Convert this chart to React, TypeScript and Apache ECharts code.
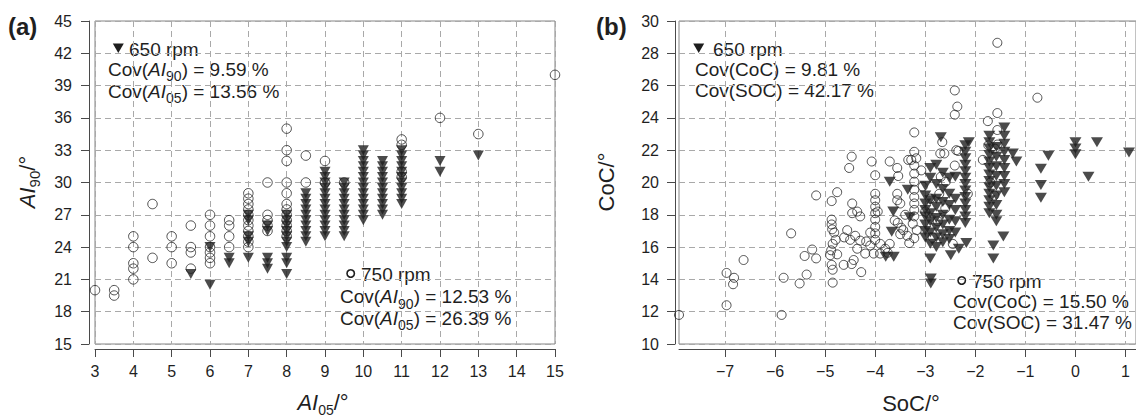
import React, { useEffect, useRef } from "react";
import * as echarts from "echarts";

// ---------- Panel (a): AI05 (x) vs AI90 (y) ----------
// columns of [AI05, [AI90 values...]]
const aiCircle750Cols: [number, number[]][] = [
  [3, [20]],
  [3.5, [20, 19.5]],
  [4, [25, 24, 22.5, 22, 21]],
  [4.5, [28, 23]],
  [5, [25, 24, 22.5]],
  [5.5, [26, 24, 23.5, 22]],
  [6, [27, 26, 25, 24, 23.5, 23, 22.5]],
  [6.5, [26.5, 26, 25, 24]],
  [7, [29, 28.5, 28, 27.5, 27, 26.5, 26, 25.5, 25, 24.5, 24]],
  [7.5, [30, 27, 26.5, 26, 25.5]],
  [8, [35, 33, 32, 30, 29, 28, 27.5, 27, 26.5, 26, 25.5, 25]],
  [8.5, [32.5, 30]],
  [9, [32, 30]],
  [9.5, [30]],
  [11, [34, 33.5, 31, 30.5]],
  [12, [36]],
  [13, [34.5]],
  [15, [40]],
];

const aiTriangle650Cols: [number, number[]][] = [
  [5.5, [21.5]],
  [6, [24, 20.5]],
  [6.5, [23, 22.5]],
  [7, [27, 26.5, 25, 24.5, 23]],
  [7.5, [26, 25.5, 23, 22.5, 22]],
  [8, [27, 26.5, 26, 25.5, 25, 24.5, 24, 23, 22.5, 21.5]],
  [8.5, [29, 28.5, 28, 27.5, 27, 26.5, 26, 25.5, 25, 24.5]],
  [9, [31, 30.5, 30, 29.5, 29, 28.5, 28, 27.5, 27, 26.5, 26, 25.5, 25]],
  [9.5, [30, 29.5, 29, 28.5, 28, 27.5, 27, 26.5, 26, 25.5, 25]],
  [10, [33, 32.5, 32, 31.5, 31, 30.5, 30, 29.5, 29, 28.5, 28, 27.5, 27, 26.5]],
  [10.5, [32, 31.5, 31, 30.5, 30, 29.5, 29, 28.5, 28, 27.5, 27]],
  [11, [33, 32.5, 32, 31.5, 31, 30.5, 30, 29.5, 29, 28.5, 28]],
  [12, [32, 31]],
  [13, [32.5]],
];

const aiXTicks = [3, 4, 5, 6, 7, 8, 9, 10, 11, 12, 13, 14, 15];

// ---------- Panel (b): SoC (x) vs CoC (y) ----------
const socCircles750: [number, number][] = [
  [-7.92, 11.8], [-6.97, 14.4], [-6.82, 14.1], [-6.84, 13.7], [-6.97, 12.4], [-6.63, 15.2],
  [-5.83, 14.1], [-5.87, 11.8], [-5.51, 13.75], [-5.37, 14.3], [-5.41, 15.45], [-5.26, 15.85],
  [-5.18, 15.3], [-5.68, 16.85],
  [-5.18, 19.2], [-4.87, 18.85], [-4.76, 19.4],
  [-4.87, 17.7], [-4.87, 17.4], [-4.86, 17.1], [-4.85, 16.2], [-4.88, 15.8], [-4.9, 15.5],
  [-4.87, 14.9], [-4.85, 14.6], [-4.85, 13.8], [-4.82, 16.9],
  [-4.79, 16.45], [-4.76, 15.55], [-4.63, 14.9], [-4.43, 15.2], [-4.47, 14.95], [-4.28, 14.45],
  [-4.56, 17.05], [-4.46, 18.7], [-4.46, 18.1], [-4.36, 18.2], [-4.3, 17.9], [-4.62, 16.6],
  [-4.5, 16.45], [-4.4, 16.7], [-4.3, 16.4], [-4.18, 16.35], [-4.36, 15.9], [-4.2, 15.6],
  [-4.03, 15.6], [-4.47, 21.6], [-4.52, 20.9], [-4.07, 21.3], [-4.0, 20.45], [-4.0, 19.3],
  [-4.0, 18.9], [-4.0, 18.5], [-4.0, 18.1], [-4.0, 17.7], [-4.0, 17.25], [-4.0, 16.85],
  [-4.0, 16.45], [-3.95, 18.2], [-3.71, 21.3], [-3.56, 20.9], [-3.56, 19.3], [-3.56, 18.9],
  [-3.5, 18.7], [-3.61, 17.65], [-3.71, 16.2], [-3.44, 17.05], [-3.22, 16.55], [-3.32, 16.25],
  [-4.1, 16.9], [-3.9, 16.2], [-3.8, 15.9], [-3.75, 15.65], [-3.9, 15.6], [-4.1, 16.1],
  [-3.22, 23.1], [-3.22, 21.9], [-3.18, 21.5], [-3.28, 21.4], [-3.22, 21.05], [-3.22, 20.55],
  [-3.22, 20.05], [-3.22, 19.55], [-3.22, 19.1], [-3.22, 18.7], [-3.22, 18.3], [-3.22, 17.9],
  [-3.25, 17.45], [-3.17, 17.05],
  [-3.34, 21.4], [-3.08, 20.75], [-3.05, 19.75], [-3.54, 20.4], [-3.55, 17.5], [-3.5, 16.8],
  [-3.48, 17.2], [-3.4, 18.0], [-3.36, 16.7],
  [-1.56, 28.65], [-2.41, 25.7], [-2.36, 24.7], [-2.41, 24.2], [-0.76, 25.25], [-1.56, 24.3],
  [-1.75, 23.8], [-1.56, 23.25], [-1.74, 22.3], [-1.56, 22.35], [-1.61, 22.1], [-1.85, 21.4],
  [-2.66, 22.5], [-2.7, 21.8], [-2.62, 21.8], [-2.38, 22.0], [-2.34, 21.95], [-2.41, 21.05],
  [-2.69, 20.35], [-2.72, 19.3], [-2.59, 20.05],
  [-2.9, 19.0], [-2.6, 18.4], [-2.75, 17.6], [-2.45, 16.2], [-2.15, 19.3], [-1.7, 20.0],
  [-1.62, 19.2], [-2.85, 16.6], [-3.0, 18.2],
];

const socTriangles650: [number, number][] = [
  [-3.79, 15.4], [-3.63, 15.4], [-3.67, 16.95], [-3.64, 18.2], [-3.71, 20.05], [-3.35, 19.55],
  [-3.31, 17.85],
  [-3.0, 19.8], [-3.0, 19.2], [-3.0, 18.7], [-3.0, 18.3], [-3.0, 17.9], [-3.0, 17.4], [-3.0, 17.0], [-3.0, 16.6],
  [-2.9, 20.9], [-2.9, 20.3], [-2.9, 18.9], [-2.9, 18.1], [-2.9, 17.6], [-2.9, 16.9], [-2.9, 16.2],
  [-2.9, 15.3], [-2.89, 14.05], [-2.89, 13.75],
  [-2.78, 21.1], [-2.78, 19.9], [-2.78, 19.0], [-2.78, 18.5], [-2.78, 17.8], [-2.78, 17.2],
  [-2.78, 16.6], [-2.78, 16.0],
  [-2.65, 20.6], [-2.65, 19.6], [-2.65, 18.8], [-2.65, 18.0], [-2.65, 17.4], [-2.65, 16.8], [-2.65, 16.3],
  [-2.52, 20.3], [-2.52, 19.3], [-2.52, 18.6], [-2.52, 17.7], [-2.52, 17.0], [-2.52, 16.5], [-2.49, 15.5],
  [-2.4, 20.35], [-2.4, 19.0], [-2.4, 18.3], [-2.4, 17.6], [-2.4, 16.9], [-2.33, 15.9],
  [-2.69, 22.8],
  [-2.2, 22.3], [-2.2, 21.9], [-2.2, 21.5], [-2.2, 21.1], [-2.2, 20.7], [-2.2, 20.3], [-2.2, 19.9],
  [-2.2, 19.5], [-2.2, 19.1], [-2.2, 18.7], [-2.2, 18.3], [-2.2, 17.9], [-2.2, 17.5], [-2.18, 16.25],
  [-2.13, 22.5],
  [-1.72, 22.9], [-1.72, 22.5], [-1.72, 22.1], [-1.72, 21.7], [-1.72, 21.3], [-1.72, 20.9],
  [-1.72, 20.5], [-1.72, 20.1], [-1.72, 19.7], [-1.72, 19.3], [-1.72, 18.9], [-1.72, 18.5], [-1.72, 18.1],
  [-1.58, 22.2], [-1.58, 21.6], [-1.58, 21.0], [-1.58, 20.4], [-1.58, 19.8], [-1.58, 19.2],
  [-1.58, 18.6], [-1.58, 18.0], [-1.58, 17.6],
  [-1.42, 23.4], [-1.42, 22.9], [-1.42, 22.4], [-1.42, 21.9], [-1.42, 21.4], [-1.42, 20.9],
  [-1.42, 20.4], [-1.42, 19.9], [-1.42, 19.4],
  [-1.25, 21.8], [-1.18, 21.3],
  [-1.64, 15.3], [-1.64, 16.1], [-1.44, 16.65],
  [-0.54, 21.65], [-0.69, 20.85], [-0.69, 19.85], [-0.69, 19.05],
  [0.0, 22.5], [0.0, 22.1], [0.0, 21.75], [0.43, 22.5], [0.26, 20.35], [1.07, 21.85],
];

const socXTicks = [-7, -6, -5, -4, -3, -2, -1, 0, 1];

const FONT = '"Liberation Sans", Arial, Helvetica, sans-serif';
const INK = "#1f1f1f";
const AXIS = "#4a4a4a";

const flattenCols = (cols: [number, number[]][]) =>
  cols.flatMap(([x, ys]) => ys.map((y) => [x, y]));

function rich(main: number, sub: number, gap: number) {
  return {
    n: { fontFamily: FONT, fontSize: main, lineHeight: main + gap, fill: INK },
    i: { fontFamily: FONT, fontSize: main, fontStyle: "italic", lineHeight: main + gap, fill: INK },
    s: { fontFamily: FONT, fontSize: sub, lineHeight: sub, verticalAlign: "bottom", fill: INK },
  };
}

function label(x: number, y: number, text: string, opts: any = {}) {
  const main = opts.size ?? 19;
  return {
    type: "text",
    x,
    y,
    rotation: opts.rotation ?? 0,
    silent: true,
    style: {
      text,
      rich: rich(main, opts.sub ?? 14, opts.gap ?? 9),
      fill: INK,
      fontFamily: FONT,
      fontSize: main,
      fontWeight: opts.bold ? "bold" : "normal",
      align: opts.align ?? "left",
      verticalAlign: "middle",
      textAlign: opts.align ?? "left",
      textVerticalAlign: "middle",
    },
  };
}

function downTriangle(cx: number, cy: number) {
  return {
    type: "polygon",
    silent: true,
    shape: { points: [[cx - 5.5, cy - 4.6], [cx + 5.5, cy - 4.6], [cx, cy + 4.9]] },
    style: { fill: "#1e1e1e" },
  };
}

function hollowDot(cx: number, cy: number) {
  return {
    type: "circle",
    silent: true,
    shape: { cx, cy, r: 3.7 },
    style: { fill: "none", stroke: "#1e1e1e", lineWidth: 1.6 },
  };
}

const axisBase = {
  type: "value",
  axisLine: { show: true, onZero: false, lineStyle: { color: AXIS, width: 1 } },
  axisTick: { show: true, length: 8, lineStyle: { color: AXIS, width: 1 } },
  splitLine: { show: true, lineStyle: { color: "#a9a9a9", width: 1, type: [6, 4] } },
};

const labelBase = { color: INK, fontSize: 16, fontFamily: FONT };
const minus = (v: number) => String(v).replace("-", "\u2212");

export default function App() {
  const ref = useRef<HTMLDivElement>(null);

  useEffect(() => {
    if (!ref.current) return;
    const chart = echarts.init(ref.current, undefined, { renderer: "svg" });

    const circleStyle = { color: "rgba(0,0,0,0)", borderColor: "#262626", borderWidth: 1 };
    const triStyle = { color: "#1e1e1e" };

    chart.setOption({
      animation: false,
      backgroundColor: "#ffffff",
      grid: [
        { left: 95, top: 21, width: 460, height: 323, show: true, borderColor: "#858585", borderWidth: 1, backgroundColor: "transparent" },
        { left: 679, top: 21, width: 464, height: 323, show: true, borderColor: "#858585", borderWidth: 1, backgroundColor: "transparent" },
      ],
      xAxis: [
        {
          ...axisBase,
          gridIndex: 0,
          min: 3,
          max: 15,
          interval: 1,
          offset: 5,
          axisLabel: { ...labelBase, margin: 14, customValues: aiXTicks },
        },
        {
          ...axisBase,
          gridIndex: 1,
          min: -7.92,
          max: 1.21,
          offset: 5,
          axisTick: { ...axisBase.axisTick, customValues: socXTicks },
          axisLabel: { ...labelBase, margin: 14, customValues: socXTicks, formatter: minus },
        },
      ],
      yAxis: [
        {
          ...axisBase,
          gridIndex: 0,
          min: 15,
          max: 45,
          interval: 3,
          offset: 6,
          axisLabel: { ...labelBase, margin: 17 },
        },
        {
          ...axisBase,
          gridIndex: 1,
          min: 10,
          max: 30,
          interval: 2,
          offset: 4,
          axisLabel: { ...labelBase, margin: 16 },
        },
      ],
      series: [
        {
          type: "scatter",
          xAxisIndex: 0,
          yAxisIndex: 0,
          data: flattenCols(aiCircle750Cols),
          symbol: "circle",
          symbolSize: 9.5,
          itemStyle: circleStyle,
          silent: true,
          z: 2,
        },
        {
          type: "scatter",
          xAxisIndex: 0,
          yAxisIndex: 0,
          data: flattenCols(aiTriangle650Cols),
          symbol: "triangle",
          symbolSize: [11, 10],
          symbolRotate: 180,
          itemStyle: triStyle,
          silent: true,
          z: 3,
        },
        {
          type: "scatter",
          xAxisIndex: 1,
          yAxisIndex: 1,
          data: socCircles750,
          symbol: "circle",
          symbolSize: 9,
          itemStyle: circleStyle,
          silent: true,
          z: 2,
        },
        {
          type: "scatter",
          xAxisIndex: 1,
          yAxisIndex: 1,
          data: socTriangles650,
          symbol: "triangle",
          symbolSize: [12, 10],
          symbolRotate: 180,
          itemStyle: triStyle,
          silent: true,
          z: 3,
        },
      ],
      graphic: [
        // panel tags
        label(8, 26, "(a)", { size: 24, bold: true }),
        label(596, 26, "(b)", { size: 24, bold: true }),
        // axis titles
        label(27, 182, "{i|AI}{s|90}{n|/°}", { size: 22, sub: 15, gap: 8, rotation: Math.PI / 2, align: "center" }),
        label(323, 402, "{i|AI}{s|05}{n|/°}", { size: 22, sub: 14, gap: 7, align: "center" }),
        label(606, 182, "{n|CoC/°}", { size: 22, rotation: Math.PI / 2, align: "center" }),
        label(911, 403, "{n|SoC/°}", { size: 22, align: "center" }),
        // panel (a) annotations
        downTriangle(118.3, 48),
        label(129, 49, "{n|650 rpm}"),
        label(108, 69, "{n|Cov(}{i|AI}{s|90}{n|) = 9.59 %}"),
        label(108, 91, "{n|Cov(}{i|AI}{s|05}{n|) = 13.56 %}"),
        hollowDot(350.7, 273.5),
        label(361, 274, "{n|750 rpm}"),
        label(340, 296.5, "{n|Cov(}{i|AI}{s|90}{n|) = 12.53 %}"),
        label(340, 318, "{n|Cov(}{i|AI}{s|05}{n|) = 26.39 %}"),
        // panel (b) annotations
        downTriangle(698.7, 48),
        label(713, 49, "{n|650 rpm}"),
        label(695, 69, "{n|Cov(CoC) = 9.81 %}"),
        label(695, 90.5, "{n|Cov(SOC) = 42.17 %}"),
        hollowDot(961.7, 280.5),
        label(972, 281, "{n|750 rpm}"),
        label(953, 301.5, "{n|Cov(CoC) = 15.50 %}"),
        label(953, 322.5, "{n|Cov(SOC) = 31.47 %}"),
      ],
    });

    return () => chart.dispose();
  }, []);

  return (
    <div style={{ position: "absolute", left: 0, top: 0, width: 1136, height: 416, overflow: "hidden", background: "#fff" }}>
      <div ref={ref} style={{ width: 1136, height: 416 }} />
    </div>
  );
}
